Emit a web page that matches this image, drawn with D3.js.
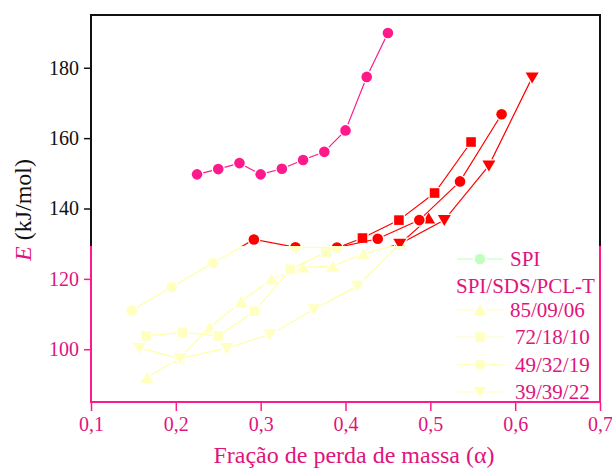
<!DOCTYPE html>
<html>
<head>
<meta charset="utf-8">
<script src="https://cdn.jsdelivr.net/npm/d3@7"></script>
<style>
  body { margin: 0; background: #fff; }
  svg { display: block; }
  svg text { font-family: "Liberation Serif", "Times New Roman", serif; }
</style>
</head>
<body>
<svg width="612" height="470"></svg>
<script>
const svg = d3.select("svg");
const margin = { top: 15, right: 12, bottom: 68, left: 91 };
const width = 612 - margin.left - margin.right;
const height = 470 - margin.top - margin.bottom;

// alpha (mass-loss fraction) and activation energy E per sample
const spiX = [0.225, 0.25, 0.275, 0.30, 0.325, 0.35, 0.375, 0.40, 0.425, 0.45];
const spiE = [149.7, 151.2, 152.9, 149.7, 151.3, 153.8, 156.1, 162.2, 177.4, 189.9];

const s850906X = [0.166, 0.204, 0.240, 0.277, 0.313, 0.350, 0.385, 0.421, 0.464, 0.498];
const s850906E = [91.9, 97.4, 106.2, 113.5, 119.9, 123.3, 123.6, 127.1, 129.9, 137.2];

const s721810X = [0.165, 0.208, 0.250, 0.2925, 0.335, 0.377, 0.420, 0.463, 0.505, 0.548];
const s721810E = [103.8, 104.8, 103.8, 110.8, 122.7, 127.6, 131.6, 136.7, 144.4, 158.9];

const s493219X = [0.148, 0.195, 0.244, 0.292, 0.341, 0.390, 0.438, 0.487, 0.535, 0.584];
const s493219E = [111.0, 117.7, 124.5, 131.2, 129.0, 128.9, 131.4, 136.7, 147.7, 166.8];

const s393922X = [0.157, 0.205, 0.260, 0.311, 0.3625, 0.414, 0.464, 0.5165, 0.569, 0.620];
const s393922E = [100.3, 97.4, 100.3, 104.2, 111.3, 118.0, 129.9, 136.7, 152.2, 177.2];

const xTicks = [0.1, 0.2, 0.3, 0.4, 0.5, 0.6, 0.7];
const yTicks = [100, 120, 140, 160, 180];

const blends = [
    { label: "85/09/06", shape: "up", x: s850906X, e: s850906E },
    { label: "72/18/10", shape: "square", x: s721810X, e: s721810E },
    { label: "49/32/19", shape: "circle", x: s493219X, e: s493219E },
    { label: "39/39/22", shape: "down", x: s393922X, e: s393922E }
];

const PINK = "#ff1a8c";
const PINK_TEXT = "#e0147c";
const RED = "#ff0000";
const PALE = "#ffffc0";
const PALE_LINE = "#ffffa8";
const FONT = "Liberation Serif, Times New Roman, serif";

const x = d3.scaleLinear().domain([0.1, 0.7]).range([0, width]);
const y = d3.scaleLinear().domain([85, 195]).range([height, 0]);

// below this pixel row the plot switches to the pale/pink palette
const splitY = 231;

const chart = svg.append("g")
    .attr("transform", `translate(${margin.left},${margin.top})`);

const defs = svg.append("defs");
defs.append("clipPath").attr("id", "upper")
    .append("rect").attr("x", -50).attr("y", -50).attr("width", width + 100).attr("height", splitY + 50);
defs.append("clipPath").attr("id", "lower")
    .append("rect").attr("x", -50).attr("y", splitY).attr("width", width + 100).attr("height", height);

const shapePath = (shape) => {
    if (shape === "circle") return "M5.3,0A5.3,5.3 0 1,1 -5.3,0A5.3,5.3 0 1,1 5.3,0Z";
    if (shape === "square") return "M-4.8,-4.8H4.8V4.8H-4.8Z";
    if (shape === "up") return "M0,-5.8L6.5,5.2L-6.5,5.2Z";
    return "M0,5.8L6.5,-5.2L-6.5,-5.2Z";
};

const line = d3.line().x(d => x(d[0])).y(d => y(d[1]));

const drawSeries = (g, xs, es, shape, fill, stroke) => {
    const pts = xs.map((v, i) => [v, es[i]]);
    g.append("path")
        .datum(pts)
        .attr("d", line)
        .attr("fill", "none")
        .attr("stroke", stroke)
        .attr("stroke-width", 1.2);
    g.selectAll(null)
        .data(pts)
        .enter().append("path")
        .attr("transform", d => `translate(${x(d[0])},${y(d[1])})`)
        .attr("d", shapePath(shape))
        .attr("fill", fill)
        .attr("stroke", "#fff")
        .attr("stroke-width", 2.5)
        .attr("paint-order", "stroke");
};

// blends: red where E is high, pale yellow below
const lowLayer = chart.append("g").attr("clip-path", "url(#lower)");
const highLayer = chart.append("g").attr("clip-path", "url(#upper)");
blends.forEach(b => {
    drawSeries(lowLayer, b.x, b.e, b.shape, PALE, PALE_LINE);
    drawSeries(highLayer, b.x, b.e, b.shape, RED, RED);
});

// neat SPI
drawSeries(chart.append("g"), spiX, spiE, "circle", PINK, PINK);

// frame: black on top, pink below the split
const frame = chart.append("g").attr("stroke-width", 2).attr("fill", "none");
frame.append("path").attr("d", `M0,${splitY}V0H${width}V${splitY}`).attr("stroke", "#111");
frame.append("path").attr("d", `M0,${splitY}V${height}H${width}V${splitY}`).attr("stroke", PINK);

const fmtComma = d => d3.format(".1f")(d).replace(".", ",");

// x axis
const xAxis = chart.append("g")
    .attr("transform", `translate(0,${height})`)
    .call(d3.axisBottom(x).tickValues(d3.range(0.15, 0.7, 0.1)).tickSize(5).tickFormat(""))
    .call(d3.axisBottom(x).tickValues(xTicks).tickSize(9).tickFormat(fmtComma).tickPadding(6))
    .attr("font-family", FONT)
    .attr("font-size", 20);
xAxis.selectAll(".domain").remove();
xAxis.selectAll("line").attr("stroke", PINK).attr("stroke-width", 1.5);
xAxis.selectAll("text").attr("fill", PINK_TEXT);

// y axis
const yAxis = chart.append("g")
    .call(d3.axisLeft(y).tickValues(d3.range(90, 195, 10)).tickSize(4).tickFormat(""))
    .call(d3.axisLeft(y).tickValues(yTicks).tickSize(7).tickPadding(5))
    .attr("font-family", FONT)
    .attr("font-size", 20);
yAxis.selectAll(".domain").remove();
yAxis.selectAll(".tick line")
    .attr("stroke-width", 1.5)
    .attr("stroke", function () {
        return y(d3.select(this.parentNode).datum()) <= splitY ? "#111" : PINK;
    });
yAxis.selectAll("text").attr("fill", d => y(d) <= splitY ? "#111" : PINK_TEXT);

// axis titles
svg.append("text")
    .attr("x", 354)
    .attr("y", 463)
    .attr("text-anchor", "middle")
    .attr("fill", PINK_TEXT)
    .attr("font-size", 24)
    .text("Fração de perda de massa (α)");

const yTitle = svg.append("text")
    .attr("transform", "translate(31,210) rotate(-90)")
    .attr("text-anchor", "middle")
    .attr("font-size", 24);
yTitle.append("tspan").attr("fill", PINK_TEXT).attr("font-style", "italic").text("E");
yTitle.append("tspan").attr("fill", "#111").text(" (kJ/mol)");

// legend
const legend = svg.append("g").attr("font-size", 21);
const legendItem = (cy, shape, fill, label, tx) => {
    legend.append("line")
        .attr("x1", 457).attr("x2", 503).attr("y1", cy).attr("y2", cy)
        .attr("stroke", fill).attr("stroke-width", 1.2);
    legend.append("path")
        .attr("transform", `translate(480,${cy})`)
        .attr("d", shapePath(shape))
        .attr("fill", fill)
        .attr("stroke", "#fff")
        .attr("stroke-width", 2.5)
        .attr("paint-order", "stroke");
    legend.append("text")
        .attr("x", tx).attr("y", cy + 7)
        .attr("fill", PINK_TEXT)
        .text(label);
};
legendItem(259, "circle", "#c0ffc0", "SPI", 510);
legend.append("text")
    .attr("x", 456)
    .attr("y", 293)
    .attr("fill", PINK_TEXT)
    .text("SPI/SDS/PCL-T");
const legendRows = [310, 337, 364.5, 392];
blends.forEach((b, i) => {
    legendItem(legendRows[i], b.shape, PALE, b.label, 510 + (i === 0 ? 0 : 5));
});
</script>
</body>
</html>
